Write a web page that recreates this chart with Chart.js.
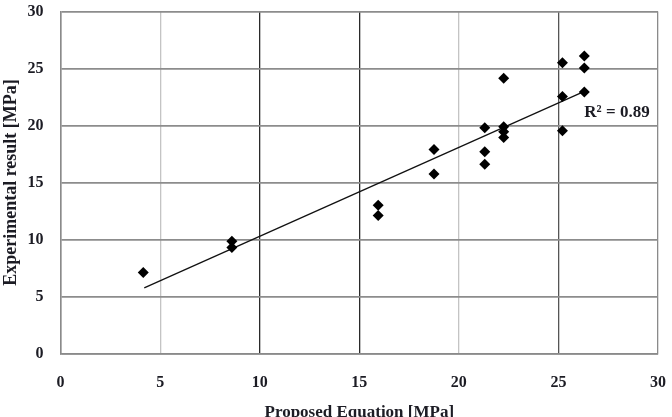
<!DOCTYPE html>
<html>
<head>
<meta charset="utf-8">
<script src="https://cdn.jsdelivr.net/npm/chart.js@4.4.0/dist/chart.umd.min.js"></script>
<style>
  html, body { margin: 0; padding: 0; background: #fff; }
  #wrap { width: 672px; height: 417px; }
</style>
</head>
<body>
<div id="wrap"><canvas id="chart-scatter"></canvas></div>
<script>
// datos
const propuesto = [4.15, 8.6, 8.6, 15.95, 15.95, 18.75, 18.75, 21.3, 21.3, 21.3, 22.25, 22.25, 22.25, 22.25, 25.2, 25.2, 25.2, 26.3, 26.3, 26.3];
const experimental = [7.1, 9.85, 9.3, 13.0, 12.1, 17.9, 15.75, 19.8, 17.7, 16.6, 24.15, 19.9, 19.45, 18.95, 25.5, 22.55, 19.55, 26.1, 25.05, 22.95];
const tendenciaX = [4.2, 26.3];
const tendenciaY = [5.75, 23.0];
const ticksEje = [0, 5, 10, 15, 20, 25, 30];
const etiquetaR2 = "R² = 0.89";

const fuente = "'Liberation Serif', 'Times New Roman', serif";
const colorTexto = "#1c1c24";

const puntos = propuesto.map((x, i) => ({ x: x, y: experimental[i] }));
const linea = tendenciaX.map((x, i) => ({ x: x, y: tendenciaY[i] }));

// colores de las lineas verticales (como en la imagen)
const colorVertical = { 0: "#8a8a8a", 5: "#c4c4c4", 10: "#2a2a2a", 15: "#2a2a2a", 20: "#c4c4c4", 25: "#555555", 30: "#8a8a8a" };

const textoR2 = {
  id: "textoR2",
  afterDatasetsDraw(chart) {
    const ctx = chart.ctx;
    const xs = chart.scales.x;
    const ys = chart.scales.y;
    ctx.save();
    ctx.fillStyle = colorTexto;
    ctx.font = "bold 17px " + fuente;
    ctx.textBaseline = "middle";
    ctx.textAlign = "left";
    ctx.fillText(etiquetaR2, xs.getPixelForValue(26.3), ys.getPixelForValue(21.1));
    ctx.restore();
  },
};

const ctx = document.getElementById("chart-scatter").getContext("2d");
new Chart(ctx, {
  type: "scatter",
  data: {
    datasets: [
      {
        label: "Datos",
        data: puntos,
        pointStyle: "rectRot",
        pointRadius: 5.5,
        backgroundColor: "#000",
        borderColor: "#000",
        borderWidth: 0,
      },
      {
        label: "Tendencia",
        type: "line",
        data: linea,
        borderColor: "#111",
        borderWidth: 1.3,
        pointRadius: 0,
        fill: false,
      },
    ],
  },
  options: {
    responsive: true,
    maintainAspectRatio: false,
    animation: false,
    layout: { padding: { top: 10, right: 14, left: 1, bottom: -6 } },
    plugins: {
      legend: { display: false },
      tooltip: { enabled: false },
    },
    scales: {
      x: {
        type: "linear",
        min: 0,
        max: 30,
        afterBuildTicks: (axis) => { axis.ticks = ticksEje.map((v) => ({ value: v })); },
        grid: {
          color: (c) => colorVertical[c.tick.value] || "#888",
          lineWidth: 1.3,
          drawTicks: true,
          tickLength: 18,
          tickColor: "rgba(0,0,0,0)",
        },
        border: { color: "#8a8a8a", width: 1.5 },
        ticks: {
          color: colorTexto,
          padding: 2,
          font: { family: fuente, size: 16, weight: "bold" },
        },
        title: {
          display: true,
          text: "Proposed Equation [MPa]",
          color: colorTexto,
          padding: { top: 8, bottom: 0 },
          font: { family: fuente, size: 17, weight: "bold" },
        },
      },
      y: {
        type: "linear",
        min: 0,
        max: 30,
        afterBuildTicks: (axis) => { axis.ticks = ticksEje.map((v) => ({ value: v })); },
        grid: {
          color: "#8c8c8c",
          lineWidth: 1.8,
          drawTicks: true,
          tickLength: 15,
          tickColor: "rgba(0,0,0,0)",
        },
        border: { color: "#8a8a8a", width: 1.5 },
        ticks: {
          color: colorTexto,
          padding: 2,
          font: { family: fuente, size: 16, weight: "bold" },
        },
        title: {
          display: true,
          text: "Experimental result [MPa]",
          color: colorTexto,
          padding: { top: 0, bottom: 3 },
          font: { family: fuente, size: 18, weight: "bold" },
        },
      },
    },
  },
  plugins: [textoR2],
});
</script>
</body>
</html>
